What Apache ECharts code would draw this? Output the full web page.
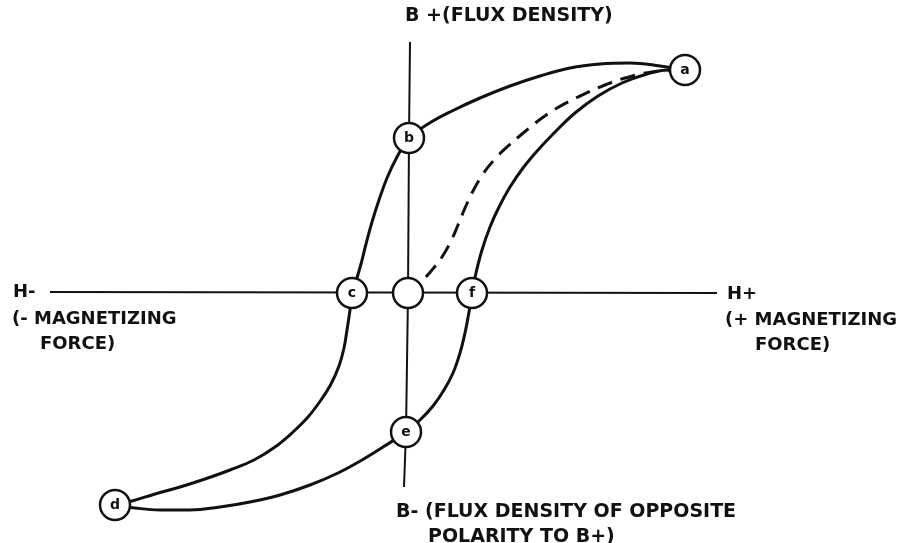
<!DOCTYPE html>
<html>
<head>
<meta charset="utf-8">
<script src="https://cdn.jsdelivr.net/npm/echarts@6/dist/echarts.min.js"></script>
<style>
html,body{margin:0;padding:0;background:#fff;}
#chart{width:901px;height:543px;}
</style>
</head>
<body>
<div id="chart"></div>
<script>
// Hysteresis loop diagram: H (magnetizing force) on x, B (flux density) on y, arbitrary units
const hAxisLine = [[-35.8, 0.1], [30.9, 0]];
const bAxisLine = [[0.2, 25.1], [0.1, 15.5], [0, 0], [-0.2, -13.9], [-0.4, -19.4]];

// a -> b -> c -> d (decreasing H)
const upperBranch = [
  [27.7, 22.3], [25.2, 22.7], [22.2, 23.0], [19.2, 22.9], [16.2, 22.5], [13.2, 21.7],
  [10.2, 20.7], [7.2, 19.5], [4.4, 18.2], [2.0, 16.9], [0.1, 15.5], [-1.1, 13.6],
  [-2.1, 11.5], [-2.9, 9.3], [-3.6, 7.1], [-4.2, 4.9], [-4.7, 2.9], [-5.2, 1.2],
  [-5.6, 0], [-5.8, -1.7], [-6.1, -3.7], [-6.4, -5.5], [-6.9, -7.3], [-7.7, -9.1],
  [-8.7, -10.7], [-10.0, -12.4], [-11.5, -13.9], [-13.3, -15.4], [-15.4, -16.7],
  [-17.8, -17.7], [-20.3, -18.6], [-22.8, -19.4], [-25.3, -20.1], [-27.6, -20.8],
  [-29.3, -21.2]
];
// d -> e -> f -> a (increasing H)
const lowerBranch = [
  [-29.3, -21.2], [-27.3, -21.5], [-24.8, -21.7], [-21.8, -21.7], [-18.8, -21.4],
  [-15.8, -20.9], [-12.8, -20.2], [-9.8, -19.2], [-7.0, -18.0], [-4.6, -16.7],
  [-2.5, -15.4], [-0.2, -13.9], [1.2, -12.7], [2.5, -11.3], [3.6, -9.7], [4.5, -8.0],
  [5.2, -6.0], [5.7, -4.0], [6.1, -1.9], [6.4, 0], [6.8, 2.0], [7.4, 4.3], [8.2, 6.6],
  [9.1, 8.6], [10.2, 10.6], [11.5, 12.5], [13.0, 14.3], [14.7, 16.1], [16.7, 18.0],
  [19.0, 19.7], [21.4, 21.0], [23.9, 21.9], [26.0, 22.3], [27.7, 22.3]
];
// initial magnetization (dashed) from origin to a
const initialCurve = [
  [0, 0], [1.2, 1.0], [2.4, 2.3], [3.4, 3.6], [4.3, 5.2], [5.0, 6.8], [5.7, 8.5],
  [6.5, 10.2], [7.5, 11.9], [8.6, 13.3], [9.9, 14.6], [11.4, 15.9], [13.0, 17.2],
  [14.9, 18.5], [17.0, 19.6], [19.2, 20.6], [21.7, 21.5], [24.4, 22.1], [27.7, 22.3]
];

const pointNames = ['a', 'b', 'c', '', 'f', 'e', 'd'];
const pointH = [27.7, 0.1, -5.6, 0, 6.4, -0.2, -29.3];
const pointB = [22.3, 15.5, 0, 0, 0, -13.9, -21.2];

const topLabel = ['B +(FLUX DENSITY)'];
const leftLabel = ['H-', '(- MAGNETIZING', 'FORCE)'];
const rightLabel = ['H+', '(+ MAGNETIZING', 'FORCE)'];
const bottomLabel = ['B- (FLUX DENSITY OF OPPOSITE', 'POLARITY TO B+)'];

const chart = echarts.init(document.getElementById('chart'), null, {renderer: 'canvas'});
const FONT = 'DejaVu Sans';
const txt = (text, x, y, size) => ({
  type: 'text', left: x, top: y, z: 100,
  style: {text: text, fill: '#111', font: 'bold ' + size + 'px "' + FONT + '"', textVerticalAlign: 'middle'}
});
const lineStyle = (w, type) => ({color: '#111', width: w, type: type || 'solid'});

chart.setOption({
  backgroundColor: '#ffffff',
  animation: false,
  grid: {left: 0, right: 0, top: 0, bottom: 0},
  xAxis: {type: 'value', min: -40.8, max: 49.3, show: false},
  yAxis: {type: 'value', min: -25, max: 29.3, show: false},
  series: [
    {type: 'line', data: hAxisLine, symbol: 'none', lineStyle: lineStyle(2), z: 2},
    {type: 'line', data: bAxisLine, symbol: 'none', lineStyle: lineStyle(2), z: 2},
    {type: 'line', data: upperBranch, symbol: 'none', smooth: 0.4, smoothConstraint: false,
     lineStyle: lineStyle(3), z: 3},
    {type: 'line', data: lowerBranch, symbol: 'none', smooth: 0.4, smoothConstraint: false,
     lineStyle: lineStyle(3), z: 3},
    {type: 'line', data: initialCurve, symbol: 'none', smooth: 0.4, smoothConstraint: false,
     lineStyle: {color: '#111', width: 3, type: [15, 9]}, z: 3},
    {type: 'scatter', z: 10,
     data: pointNames.map((n, i) => ({value: [pointH[i], pointB[i]], name: n})),
     symbol: 'circle', symbolSize: 30,
     itemStyle: {color: '#fff', borderColor: '#111', borderWidth: 2.5, opacity: 1},
     label: {show: true, position: 'inside', formatter: p => p.name, color: '#111',
             fontFamily: FONT, fontWeight: 'bold', fontSize: 14}}
  ],
  graphic: [
    txt(topLabel[0], 405, 7, 19),
    txt(leftLabel[0], 13, 283, 18),
    txt(leftLabel[1], 12, 310, 18),
    txt(leftLabel[2], 40, 335, 18),
    txt(rightLabel[0], 727, 285, 18),
    txt(rightLabel[1], 725, 311, 18),
    txt(rightLabel[2], 755, 336, 18),
    txt(bottomLabel[0], 396, 503, 19),
    txt(bottomLabel[1], 428, 528, 19)
  ]
});
</script>
</body>
</html>
